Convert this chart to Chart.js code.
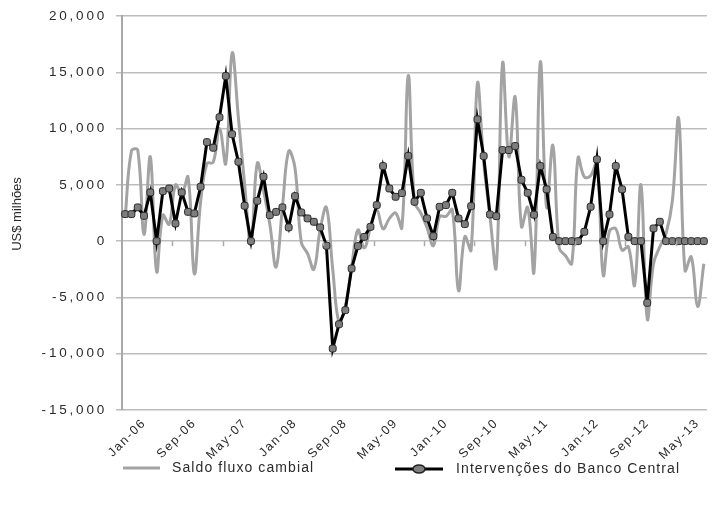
<!DOCTYPE html>
<html>
<head>
<meta charset="utf-8">
<script src="https://cdn.jsdelivr.net/npm/chart.js@4.4.1/dist/chart.umd.min.js"></script>
<style>
  html, body { margin: 0; padding: 0; background: #fff; }
  #wrap { width: 712px; height: 509px; position: relative; }
</style>
</head>
<body>
<div id="wrap"><canvas id="myChart"></canvas></div>
<script>
const months = [
  'Jan-06','Feb-06','Mar-06','Apr-06','May-06','Jun-06','Jul-06','Aug-06','Sep-06','Oct-06','Nov-06','Dec-06',
  'Jan-07','Feb-07','Mar-07','Apr-07','May-07','Jun-07','Jul-07','Aug-07','Sep-07','Oct-07','Nov-07','Dec-07',
  'Jan-08','Feb-08','Mar-08','Apr-08','May-08','Jun-08','Jul-08','Aug-08','Sep-08','Oct-08','Nov-08','Dec-08',
  'Jan-09','Feb-09','Mar-09','Apr-09','May-09','Jun-09','Jul-09','Aug-09','Sep-09','Oct-09','Nov-09','Dec-09',
  'Jan-10','Feb-10','Mar-10','Apr-10','May-10','Jun-10','Jul-10','Aug-10','Sep-10','Oct-10','Nov-10','Dec-10',
  'Jan-11','Feb-11','Mar-11','Apr-11','May-11','Jun-11','Jul-11','Aug-11','Sep-11','Oct-11','Nov-11','Dec-11',
  'Jan-12','Feb-12','Mar-12','Apr-12','May-12','Jun-12','Jul-12','Aug-12','Sep-12','Oct-12','Nov-12','Dec-12',
  'Jan-13','Feb-13','Mar-13','Apr-13','May-13','Jun-13','Jul-13','Aug-13','Sep-13'
];

// Saldo fluxo cambial (US$ milhões)
const saldoFluxo = [
  2100, 8000, 8100, 600, 7500, -2700, 2300, 1500, 5000, 4200, 5700, -2900,
  3500, 6900, 7000, 10000, 6900, 16700, 11000, 5000, -300, 6900, 4500, 1500,
  -2300, 3000, 8000, 6500, -100, -1100, -2500, 1000, 3000, -2500, -7200, -5800,
  -2300, 1000, -600, 1200, 2800, 1100, 2000, 2500, 1200, 14700, 3500, 2500,
  1200, -400, 2200, 2200, 2800, -4400, 400, -800, 14000, 7000, 2200, -2300,
  15800, 7500, 12800, 1300, 3000, -2700, 15900, 3000, 8500, -600, -1300, -2000,
  7400, 5700, 5800, 7000, -3000, 900, 1100, -800, -500, -3900, 5000, -6900,
  -2000, -500, 700, 3600, 10900, -2600, -1400, -5800, -2000
];

// Intervenções do Banco Central (US$ milhões)
const intervencoes = [
  2400, 2400, 3000, 2250, 4330, 0, 4440, 4680, 1570, 4330, 2600, 2460,
  4830, 8800, 8300, 11000, 14670, 9500, 7050, 3140, 0, 3580, 5720, 2310,
  2600, 3000, 1220, 4000, 2550, 2020, 1720, 1220, -410, -9540, -7380, -6130,
  -2430, -440, 380, 1270, 3200, 6670, 4680, 3940, 4270, 7570, 3500, 4290,
  2020, 440, 3050, 3200, 4290, 2020, 1510, 3110, 10820, 7560, 2370, 2220,
  8090, 8090, 8450, 5450, 4290, 2350, 6670, 4600, 380, 0, 0, 0,
  0, 830, 3050, 7260, 0, 2370, 6670, 4600, 380, 0, 0, -5480,
  1130, 1720, 0, 0, 0, 0, 0, 0, 0
];

const yTickValues = [20000, 15000, 10000, 5000, 0, -5000, -10000, -15000];
const labelStep = 8;
const seriesNames = ['Saldo fluxo cambial', 'Intervenções do Banco Central'];

const textColor = '#2b2b2b';
const fontFamily = '"Liberation Sans", Arial, sans-serif';

function fmt(v) {
  return v.toLocaleString('en-US');
}

const textLayer = {
  id: 'textLayer',
  afterDraw(chart) {
    const ctx = chart.ctx;
    const xs = chart.scales.x;
    const ys = chart.scales.y;
    const area = chart.chartArea;

    // small tick marks on the zero line
    ctx.save();
    const y0 = ys.getPixelForValue(0);
    const cat = (area.right - area.left) / months.length;
    ctx.strokeStyle = '#a8a8a8';
    ctx.lineWidth = 1.5;
    for (let k = labelStep; k < months.length; k += labelStep) {
      const x = Math.round(area.left + k * cat) + 0.5;
      ctx.beginPath();
      ctx.moveTo(x, y0);
      ctx.lineTo(x, y0 + 5);
      ctx.stroke();
    }
    ctx.restore();

    // y tick labels
    ctx.save();
    ctx.fillStyle = textColor;
    ctx.font = '13.5px ' + fontFamily;
    ctx.letterSpacing = '2.8px';
    ctx.textAlign = 'right';
    ctx.textBaseline = 'middle';
    yTickValues.forEach(v => {
      ctx.fillText(fmt(v), 107, ys.getPixelForValue(v));
    });
    ctx.restore();

    // x tick labels (rotated)
    ctx.save();
    ctx.fillStyle = textColor;
    ctx.font = '12.5px ' + fontFamily;
    ctx.letterSpacing = '1.6px';
    ctx.textAlign = 'right';
    ctx.textBaseline = 'middle';
    months.forEach((m, i) => {
      if (i % labelStep !== 0) return;
      const px = xs.getPixelForValue(i);
      ctx.save();
      ctx.translate(px + 19, area.bottom + 11);
      ctx.rotate(-Math.PI / 4);
      ctx.fillText(m, 0, 0);
      ctx.restore();
    });
    ctx.restore();

    // y axis title
    ctx.save();
    ctx.fillStyle = textColor;
    ctx.font = '13px ' + fontFamily;
    ctx.textAlign = 'center';
    ctx.textBaseline = 'middle';
    ctx.translate(17, 214);
    ctx.rotate(-Math.PI / 2);
    ctx.fillText('US$ milhões', 0, 0);
    ctx.restore();

    // legend
    ctx.save();
    const ly = 468;
    ctx.lineWidth = 3;
    ctx.strokeStyle = '#a3a3a3';
    ctx.beginPath();
    ctx.moveTo(123, ly);
    ctx.lineTo(160, ly);
    ctx.stroke();

    ctx.strokeStyle = '#000';
    ctx.beginPath();
    ctx.moveTo(395, ly + 1);
    ctx.lineTo(443, ly + 1);
    ctx.stroke();
    ctx.lineWidth = 1.5;
    ctx.fillStyle = '#808080';
    ctx.strokeStyle = '#222';
    ctx.beginPath();
    ctx.ellipse(419, ly + 1, 6, 4, 0, 0, Math.PI * 2);
    ctx.fill();
    ctx.stroke();

    ctx.fillStyle = textColor;
    ctx.font = '14px ' + fontFamily;
    ctx.letterSpacing = '1.1px';
    ctx.textAlign = 'left';
    ctx.textBaseline = 'middle';
    ctx.fillText(seriesNames[0], 172, ly);
    ctx.fillText(seriesNames[1], 456, ly + 1);
    ctx.restore();
  }
};

const ctx = document.getElementById('myChart').getContext('2d');
const chart = new Chart(ctx, {
  type: 'line',
  data: {
    labels: months,
    datasets: [
      {
        label: seriesNames[1],
        data: intervencoes,
        borderColor: '#000',
        borderWidth: 3,
        tension: 0,
        pointStyle: 'rectRounded',
        pointRadius: 4,
        pointBackgroundColor: '#7d7d7d',
        pointBorderColor: '#2a2a2a',
        pointBorderWidth: 1,
        order: 0
      },
      {
        label: seriesNames[0],
        data: saldoFluxo,
        borderColor: '#a3a3a3',
        borderWidth: 3,
        tension: 0.4,
        pointRadius: 0,
        order: 1
      }
    ]
  },
  options: {
    responsive: true,
    maintainAspectRatio: false,
    animation: false,
    layout: { padding: { top: 16, right: 3, left: 0, bottom: 0 } },
    plugins: {
      legend: { display: false },
      tooltip: { enabled: false }
    },
    scales: {
      x: {
        type: 'category',
        offset: true,
        grid: { display: false },
        border: { display: false },
        ticks: { display: false },
        afterFit: s => { s.height = 99; }
      },
      y: {
        min: -15000,
        max: 20000,
        ticks: { display: false, stepSize: 5000 },
        grid: { color: '#bdbdbd', lineWidth: 1.5, tickLength: 6, drawTicks: true },
        border: { color: '#a8a8a8', width: 2 },
        afterFit: s => { s.width = 122; }
      }
    }
  },
  plugins: [textLayer]
});
</script>
</body>
</html>
